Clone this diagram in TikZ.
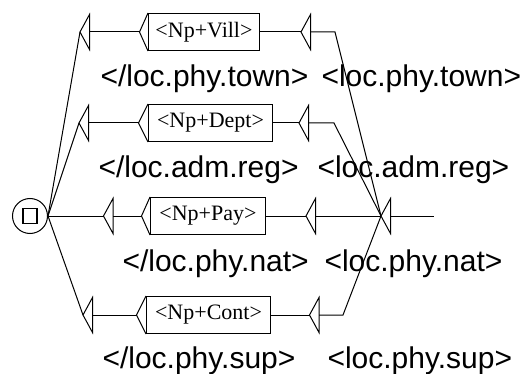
\documentclass[tikz,border=0pt]{standalone}
\usepackage{fontspec}
\setmainfont{Liberation Serif}
\newfontfamily\labfont{Liberation Sans}
\begin{document}
\begin{tikzpicture}[x=1pt,y=-1pt,line width=1pt,
  lbl/.style={anchor=base west,inner sep=0pt,font=\labfont\fontsize{30}{32}\selectfont},
  gbox/.style={draw,rectangle,inner sep=0pt,minimum height=37pt,anchor=west,font=\fontsize{22}{23}\selectfont},
  tri/.style={line join=miter}]
\useasboundingbox (0,0) rectangle (524,374);
% triangle macro: name, tip x, y
\newcommand{\mytri}[3]{%
  \coordinate (#1-t) at (#2,#3);
  \coordinate (#1-b) at ({#2+9.5},#3);
  \draw[tri] (#1-t) -- ({#2+9.5},{#3-17.5}) -- ({#2+9.5},{#3+17.5}) -- cycle;}
% initial state
\node (init) [circle,draw,minimum size=35pt,inner sep=0pt] at (30,216) {};
\draw[line width=1.6pt] (23,208.5) rectangle (37,223.5);
% boxes
\node (b1) [gbox,minimum width=111pt] at (148,32) {<Np+Vill>};
\node (b2) [gbox,minimum width=124pt] at (148,123) {<Np+Dept>};
\node (b3) [gbox,minimum width=115pt] at (150,216) {<Np+Pay>};
\node (b4) [gbox,minimum width=124pt] at (146,315) {<Np+Cont>};
% box entry triangles
\coordinate (bt1) at (139.5,32);
\coordinate (bt2) at (138.5,123);
\coordinate (bt3) at (141.5,216);
\coordinate (bt4) at (136.5,315);
\foreach \i in {1,2,3,4}{\draw[tri] (b\i.north west) -- (bt\i) -- (b\i.south west);}
% left output triangles
\mytri{l1}{80}{32}
\mytri{l2}{79}{123}
\mytri{l3}{103.5}{216}
\mytri{l4}{83}{315}
% right output triangles
\mytri{r1}{301}{32}
\mytri{r2}{299}{123}
\mytri{r3}{306}{216}
\mytri{r4}{309.5}{315}
% final
\mytri{fin}{381}{216}
\coordinate (end) at (434,216);
\coordinate (k1) at (335,32);
\coordinate (k2) at (334,123);
\coordinate (k4) at (343,315);
% connectors left
\draw (init.east) -- (l1-t);
\draw (init.east) -- (l2-t);
\draw (init.east) -- (l3-t);
\draw (init.east) -- (l4-t);
\foreach \i in {1,2,3,4}{\draw (l\i-b) -- (bt\i); \draw (b\i.east) -- (r\i-t);}
% connectors right
\draw (r1-b) -- (k1) -- (fin-t);
\draw (r2-b) -- (k2) -- (fin-t);
\draw (r3-b) -- (fin-t);
\draw (r4-b) -- (k4) -- (fin-t);
\draw (fin-b) -- (end);
% labels
\node[lbl] (o1a) at (100,87) {</loc.phy.town>};
\node[lbl] (o1b) at (321,87) {<loc.phy.town>};
\node[lbl] (o2a) at (98,178) {</loc.adm.reg>};
\node[lbl] (o2b) at (317,178) {<loc.adm.reg>};
\node[lbl] (o3a) at (122,271) {</loc.phy.nat>};
\node[lbl] (o3b) at (324,271) {<loc.phy.nat>};
\node[lbl] (o4a) at (102,368) {</loc.phy.sup>};
\node[lbl] (o4b) at (327,368) {<loc.phy.sup>};
\end{tikzpicture}
\end{document}
